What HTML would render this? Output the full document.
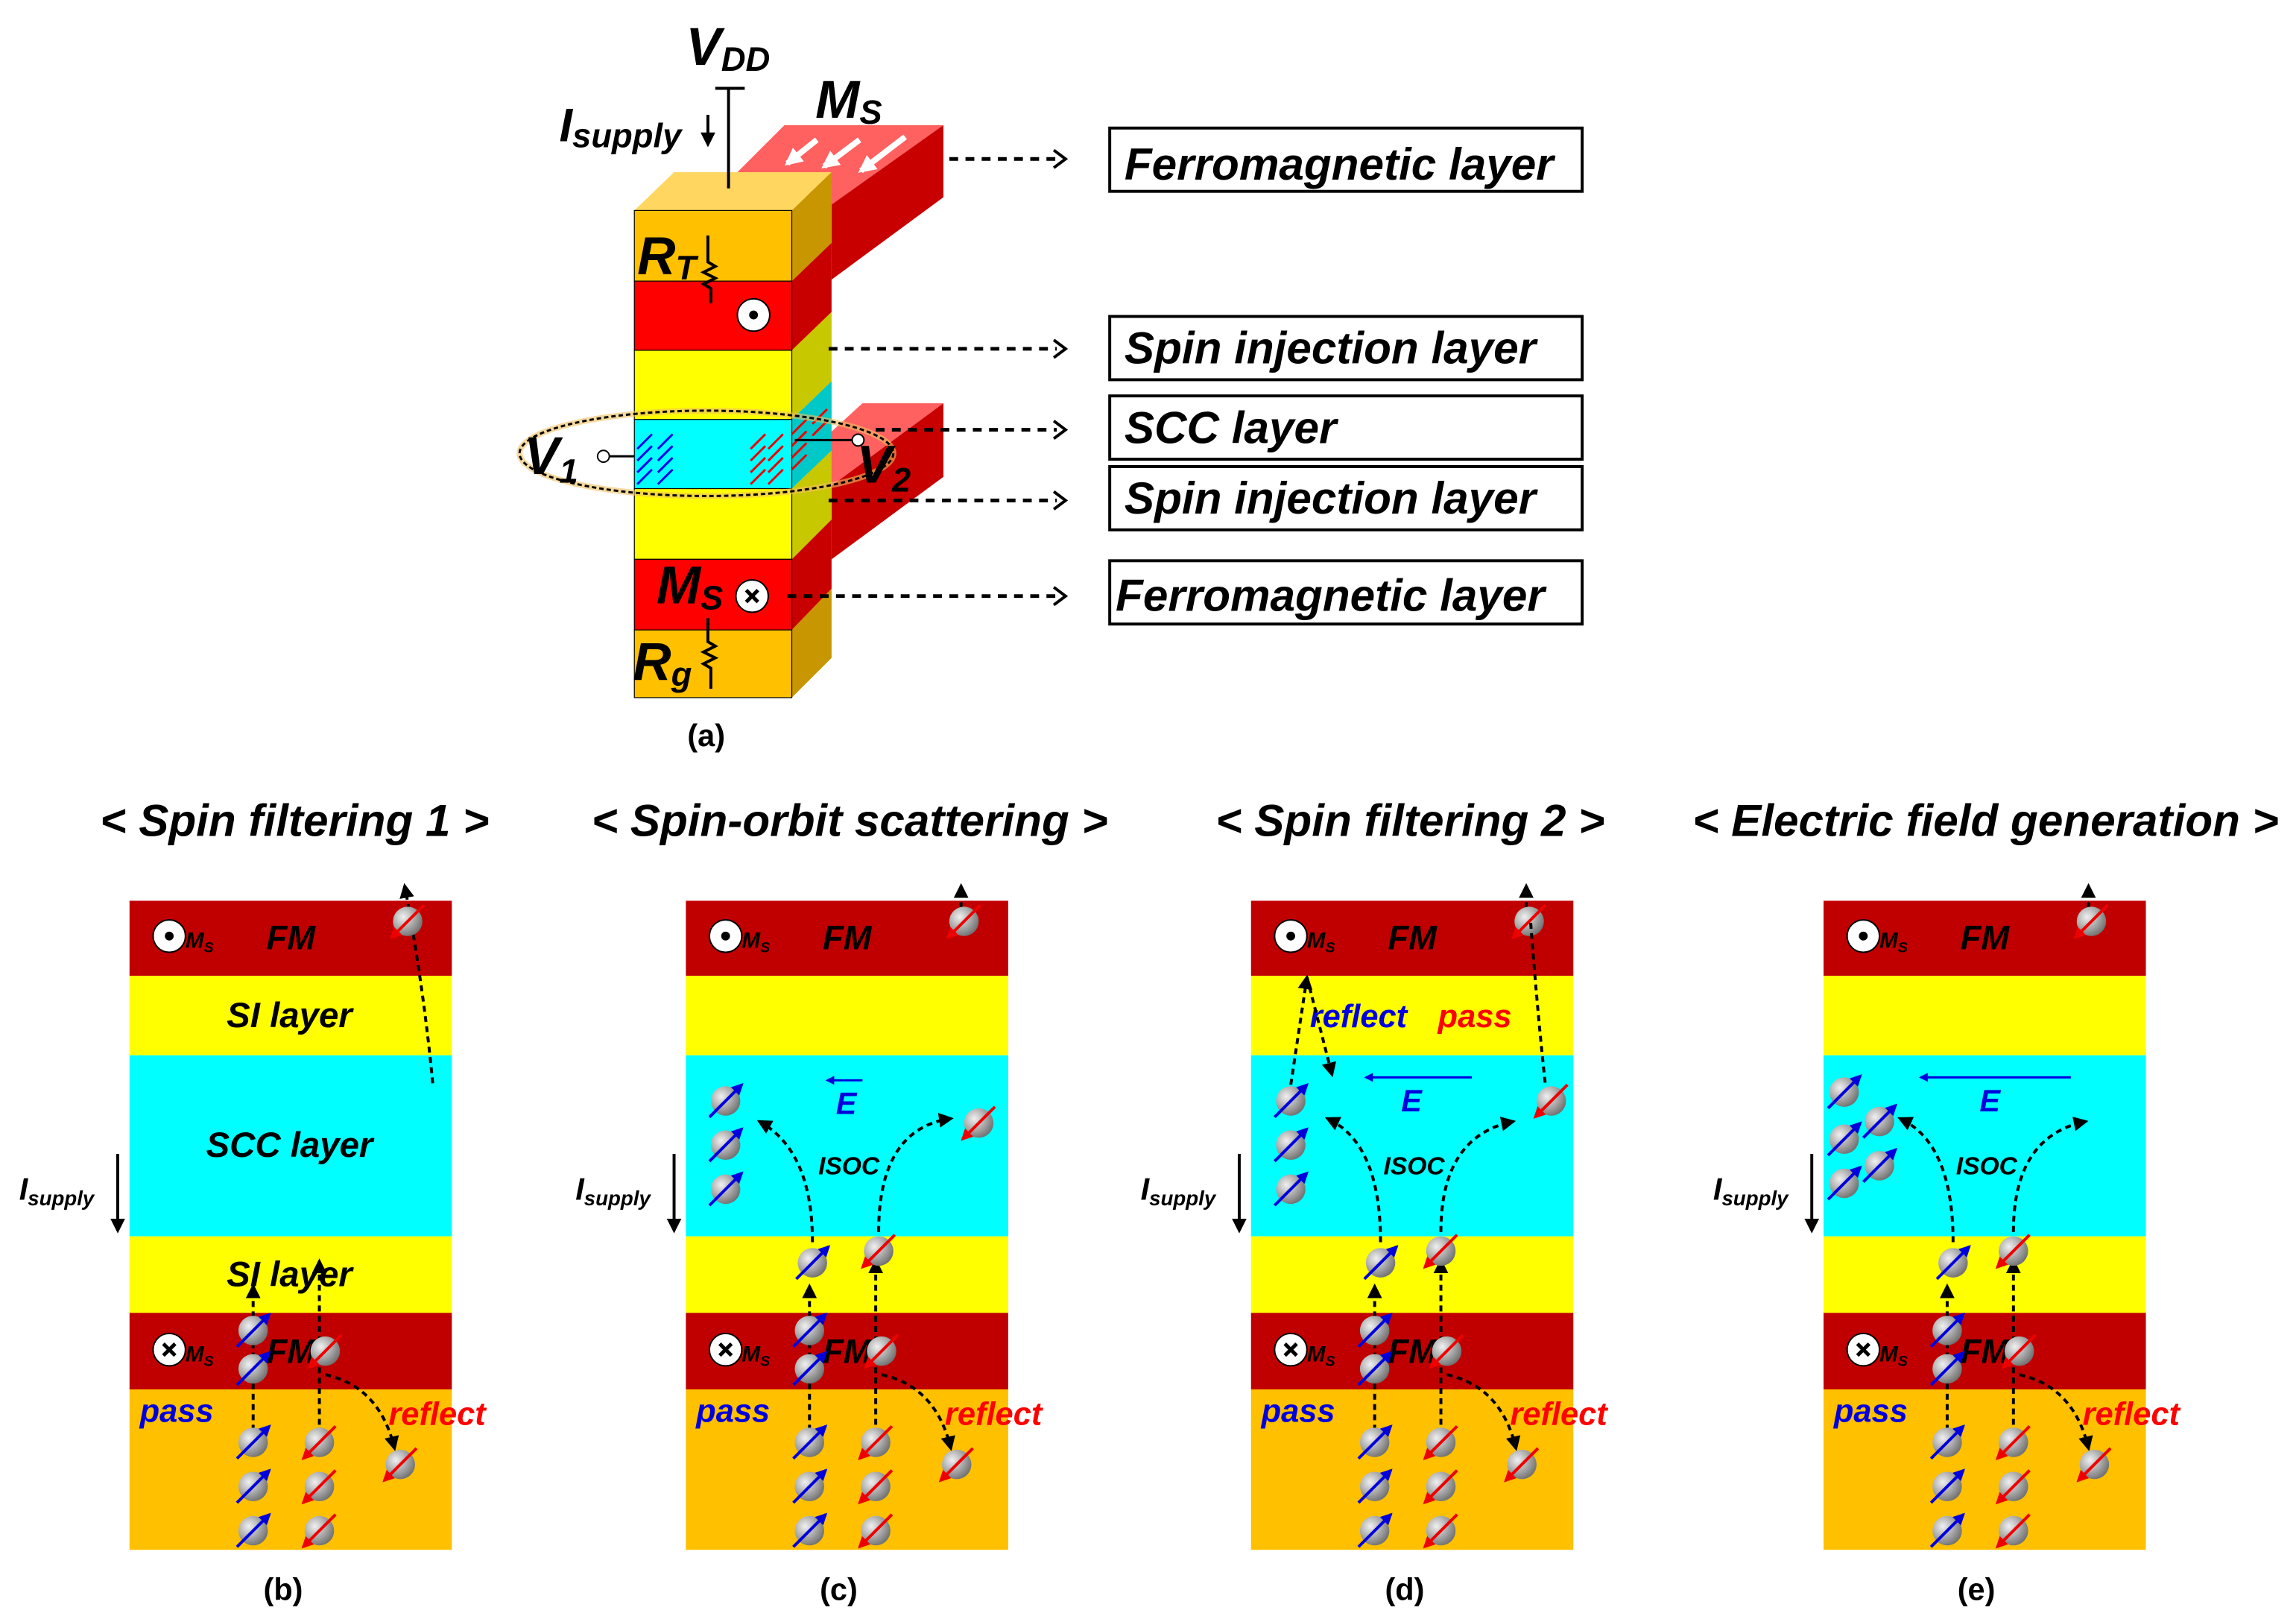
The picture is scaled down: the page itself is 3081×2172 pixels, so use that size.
<!DOCTYPE html>
<html><head><meta charset="utf-8"><style>
html,body{margin:0;padding:0;background:#fff}
svg{display:block}
text{font-family:"Liberation Sans",Arial,sans-serif;font-weight:bold;font-style:italic}
text.n{font-style:normal}
</style></head><body>
<svg width="3081" height="2172" viewBox="0 0 1560 1100" preserveAspectRatio="none" xmlns="http://www.w3.org/2000/svg">
<defs>
<marker id="ah" viewBox="0 0 10 10" refX="8" refY="5" markerWidth="5" markerHeight="5" orient="auto"><path d="M0,0L10,5L0,10z" fill="#000"/></marker>
<marker id="bh" viewBox="0 0 10 10" refX="8" refY="5" markerWidth="4" markerHeight="4" orient="auto"><path d="M0,0L10,5L0,10z" fill="#0000dd"/></marker>
<marker id="rh" viewBox="0 0 10 10" refX="8" refY="5" markerWidth="4" markerHeight="4" orient="auto"><path d="M0,0L10,5L0,10z" fill="#ee0000"/></marker>
<marker id="wh" viewBox="0 0 10 10" refX="8" refY="5" markerWidth="3" markerHeight="3" orient="auto"><path d="M0,0L10,5L0,10z" fill="#fff"/></marker>
<radialGradient id="bg" cx="0.35" cy="0.35" r="0.7"><stop offset="0" stop-color="#f0f0f0"/><stop offset="1" stop-color="#707070"/></radialGradient>
<g id="up"><circle r="10" fill="url(#bg)"/><line x1="-11" y1="11" x2="11" y2="-11" stroke="#0000dd" stroke-width="2" marker-end="url(#bh)"/></g>
<g id="dn"><circle r="10" fill="url(#bg)"/><line x1="11" y1="-11" x2="-11" y2="11" stroke="#ee0000" stroke-width="2" marker-end="url(#rh)"/></g>
<g id="dot"><circle r="11" fill="#fff" stroke="#000" stroke-width="1"/><circle r="3" fill="#000"/></g>
<g id="crs"><circle r="11" fill="#fff" stroke="#000" stroke-width="1"/><path d="M-4,-4L4,4M4,-4L-4,4" stroke="#000" stroke-width="2.5"/></g>
<g id="panel">
<rect x="0" y="0" width="219" height="51" fill="#c00000"/>
<rect x="0" y="51" width="219" height="54" fill="#ffff00"/>
<rect x="0" y="105" width="219" height="123" fill="#00ffff"/>
<rect x="0" y="228" width="219" height="52" fill="#ffff00"/>
<rect x="0" y="280" width="219" height="52" fill="#c00000"/>
<rect x="0" y="332" width="219" height="109" fill="#ffc000"/>
<use href="#dot" x="27" y="24"/><text x="38" y="32" font-size="15">M<tspan font-size="10" dy="3">S</tspan></text>
<text x="93" y="33" font-size="23">FM</text>
<use href="#crs" x="27" y="305"/><text x="38" y="313" font-size="15">M<tspan font-size="10" dy="3">S</tspan></text>
<text x="93" y="314" font-size="23">FM</text>
<text x="7" y="354" font-size="22" fill="#0000dd">pass</text>
<text x="176" y="356" font-size="22" fill="#ff0000">reflect</text>
<g fill="none" stroke="#000" stroke-width="2" stroke-dasharray="4,3">
<path d="M84,360V262" marker-end="url(#ah)"/>
<path d="M129,370V245" marker-end="url(#ah)"/>
<path d="M133,322Q170,330 180,372" marker-end="url(#ah)"/>
</g>
<use href="#up" x="84" y="292"/><use href="#up" x="84" y="318"/>
<use href="#dn" x="133" y="306"/>
<use href="#up" x="84" y="368"/><use href="#up" x="84" y="398"/><use href="#up" x="84" y="428"/>
<use href="#dn" x="129" y="368"/><use href="#dn" x="129" y="398"/><use href="#dn" x="129" y="428"/>
<use href="#dn" x="184" y="383"/>
<text x="-75" y="203" font-size="21">I<tspan font-size="14" dy="4">supply</tspan></text>
<path d="M-8,172V224" stroke="#000" stroke-width="2" marker-end="url(#ah)"/>
</g>
</defs>

<!-- TOP DEVICE -->
<polygon points="500,118 533,85 641,85 565,139" fill="#ff6060"/>
<polygon points="565,139 641,85 641,134 565,190" fill="#c80000"/>
<g stroke="#fff" stroke-width="4"><line x1="555" y1="95" x2="535" y2="111" marker-end="url(#wh)"/><line x1="584" y1="95" x2="560" y2="113" marker-end="url(#wh)"/><line x1="615" y1="93" x2="585" y2="116" marker-end="url(#wh)"/></g>
<polygon points="540,316 586,274 641,274 565,330" fill="#ff6060"/>
<polygon points="565,330 641,274 641,324 565,380" fill="#c80000"/>
<polygon points="431,143 458,117 565,117 538,143" fill="#ffd760"/>
<polygon points="538,143 565,117 565,165 538,191" fill="#c89600"/>
<polygon points="538,191 565,165 565,212 538,238" fill="#c80000"/>
<polygon points="538,238 565,212 565,259 538,285" fill="#c8c800"/>
<polygon points="538,285 565,259 565,306 538,332" fill="#00c8c8"/>
<polygon points="538,332 565,306 565,353 538,380" fill="#c8c800"/>
<polygon points="538,380 565,353 565,400 538,428" fill="#c80000"/>
<polygon points="538,428 565,400 565,447 538,474" fill="#c89600"/>
<g stroke="#000" stroke-width="0.6">
<rect x="431" y="143" width="107" height="48" fill="#ffc000"/>
<rect x="431" y="191" width="107" height="47" fill="#ff0000"/>
<rect x="431" y="238" width="107" height="47" fill="#ffff00"/>
<rect x="431" y="285" width="107" height="47" fill="#00ffff"/>
<rect x="431" y="332" width="107" height="48" fill="#ffff00"/>
<rect x="431" y="380" width="107" height="48" fill="#ff0000"/>
<rect x="431" y="428" width="107" height="46" fill="#ffc000"/>
</g>
<g stroke="#0000ee" stroke-width="1.5"><path d="M433,305l10,-10M433,313l10,-10M433,321l10,-10M433,329l10,-10M447,305l10,-10M447,313l10,-10M447,321l10,-10M447,329l10,-10"/></g>
<g stroke="#ee0000" stroke-width="1.5"><path d="M520,295l-10,10M520,303l-10,10M520,311l-10,10M520,319l-10,10M532,295l-10,10M532,303l-10,10M532,311l-10,10M532,319l-10,10M548,285l-10,10M548,293l-10,10M548,301l-10,10M548,309l-10,10M562,278l-10,10M562,286l-10,10"/></g>
<ellipse cx="480" cy="308" rx="127" ry="29" fill="none" stroke="#f0c060" stroke-width="4" opacity="0.6"/>
<ellipse cx="480" cy="308" rx="127" ry="29" fill="none" stroke="#000" stroke-width="1.5" stroke-dasharray="3,2"/>
<line x1="412" y1="310" x2="431" y2="310" stroke="#000" stroke-width="1.5"/><circle cx="410" cy="310" r="4" fill="#fff" stroke="#000"/>
<line x1="540" y1="299" x2="580" y2="299" stroke="#000" stroke-width="1.5"/><circle cx="583" cy="299" r="4" fill="#fff" stroke="#000"/>
<text x="356" y="322" font-size="36">V<tspan font-size="23" dy="6">1</tspan></text>
<text x="582" y="328" font-size="36">V<tspan font-size="23" dy="6">2</tspan></text>
<line x1="495" y1="128" x2="495" y2="60" stroke="#000" stroke-width="2"/><line x1="486" y1="60" x2="506" y2="60" stroke="#000" stroke-width="2"/>
<text x="466" y="44" font-size="36">V<tspan font-size="23" dy="4">DD</tspan></text>
<text x="380" y="96" font-size="32">I<tspan font-size="23" dy="4">supply</tspan></text>
<path d="M481,78V98" stroke="#000" stroke-width="2" marker-end="url(#ah)"/>
<text x="554" y="80" font-size="36">M<tspan font-size="23" dy="4">S</tspan></text>
<text x="433" y="186" font-size="36">R<tspan font-size="23" dy="4">T</tspan></text>
<path d="M481,160v18l5,3l-8,4l8,4l-8,4l5,3v10" fill="none" stroke="#000" stroke-width="2"/>
<use href="#dot" x="512" y="214"/>
<text x="446" y="410" font-size="36">M<tspan font-size="23" dy="4">S</tspan></text>
<use href="#crs" x="511" y="405"/>
<path d="M481,420v16l5,3l-8,4l8,4l-8,4l5,3v14" fill="none" stroke="#000" stroke-width="2"/>
<text x="430" y="462" font-size="36">R<tspan font-size="23" dy="4">g</tspan></text>
<text x="467" y="507" font-size="21" class="n">(a)</text>
<g stroke="#000" stroke-width="2.5" stroke-dasharray="6,5" fill="none">
<path d="M645,108H718"/><path d="M563,237H718"/><path d="M595,292H718"/><path d="M563,340H718"/><path d="M535,405H718"/>
</g>
<g fill="none" stroke="#000" stroke-width="2"><path d="M716,102l8,6l-8,6"/><path d="M716,231l8,6l-8,6"/><path d="M716,286l8,6l-8,6"/><path d="M716,334l8,6l-8,6"/><path d="M716,399l8,6l-8,6"/></g>
<g fill="#fff" stroke="#000" stroke-width="2">
<rect x="754" y="87" width="321" height="43"/><rect x="754" y="215" width="321" height="43"/><rect x="754" y="269" width="321" height="43"/><rect x="754" y="317" width="321" height="43"/><rect x="754" y="381" width="321" height="43"/>
</g>
<g font-size="30.5">
<text x="764" y="122">Ferromagnetic layer</text>
<text x="764" y="247">Spin injection layer</text>
<text x="764" y="301">SCC layer</text>
<text x="764" y="349">Spin injection layer</text>
<text x="758" y="415">Ferromagnetic layer</text>
</g>

<g font-size="30.5">
<text x="68" y="568">&lt; Spin filtering 1 &gt;</text>
<text x="402" y="568">&lt; Spin-orbit scattering &gt;</text>
<text x="826" y="568">&lt; Spin filtering 2 &gt;</text>
<text x="1150" y="568">&lt; Electric field generation &gt;</text>
</g>

<g transform="translate(88,612)"><use href="#panel"/>
<text x="66" y="86" font-size="24">SI layer</text>
<text x="52" y="174" font-size="24">SCC layer</text>
<text x="66" y="262" font-size="24">SI layer</text>
<path d="M206,124Q200,60 187,-10" fill="none" stroke="#000" stroke-width="2" stroke-dasharray="4,3" marker-end="url(#ah)"/>
<use href="#dn" x="189" y="14"/>
</g>
<g transform="translate(466,612)"><use href="#panel"/>
<path d="M187,5V-10" stroke="#000" stroke-width="2" stroke-dasharray="4,3" marker-end="url(#ah)"/>
<use href="#dn" x="189" y="14"/>
<path d="M120,122H96" stroke="#0000dd" stroke-width="1.5" marker-end="url(#bh)"/><text x="102" y="145" font-size="21" fill="#0000dd">E</text>
<use href="#up" x="27" y="136"/><use href="#up" x="27" y="166"/><use href="#up" x="27" y="196"/><use href="#dn" x="199" y="151"/>
<g fill="none" stroke="#000" stroke-width="2" stroke-dasharray="4,3"><path d="M86,232Q86,170 50,150" marker-end="url(#ah)"/><path d="M131,225Q131,155 180,148" marker-end="url(#ah)"/></g>
<text x="90" y="186" font-size="17">ISOC</text>
<use href="#up" x="86" y="246"/><use href="#dn" x="131" y="238"/>
</g>
<g transform="translate(850,612)"><use href="#panel"/>
<path d="M187,5V-10" stroke="#000" stroke-width="2" stroke-dasharray="4,3" marker-end="url(#ah)"/>
<use href="#dn" x="189" y="14"/>
<path d="M190,15Q195,80 200,125" fill="none" stroke="#000" stroke-width="2" stroke-dasharray="4,3"/>
<use href="#dn" x="204" y="136"/>
<text x="40" y="86" font-size="22" fill="#0000dd">reflect</text><text x="127" y="86" font-size="22" fill="#ff0000">pass</text>
<g fill="none" stroke="#000" stroke-width="2" stroke-dasharray="4,3"><path d="M27,125L38,52" marker-end="url(#ah)"/><path d="M38,52L55,118" marker-end="url(#ah)"/></g>
<path d="M150,120H78" stroke="#0000dd" stroke-width="1.5" marker-end="url(#bh)"/><text x="102" y="143" font-size="21" fill="#0000dd">E</text>
<use href="#up" x="27" y="136"/><use href="#up" x="27" y="166"/><use href="#up" x="27" y="196"/>
<g fill="none" stroke="#000" stroke-width="2" stroke-dasharray="4,3"><path d="M88,232Q88,165 52,148" marker-end="url(#ah)"/><path d="M129,225Q129,160 178,150" marker-end="url(#ah)"/></g>
<text x="90" y="186" font-size="17">ISOC</text>
<use href="#up" x="88" y="246"/><use href="#dn" x="129" y="238"/>
</g>
<g transform="translate(1239,612)"><use href="#panel"/>
<path d="M180,5V-10" stroke="#000" stroke-width="2" stroke-dasharray="4,3" marker-end="url(#ah)"/>
<use href="#dn" x="182" y="14"/>
<path d="M168,120H66" stroke="#0000dd" stroke-width="1.5" marker-end="url(#bh)"/><text x="106" y="143" font-size="21" fill="#0000dd">E</text>
<use href="#up" x="14" y="130"/><use href="#up" x="14" y="162"/><use href="#up" x="14" y="192"/><use href="#up" x="38" y="150"/><use href="#up" x="38" y="180"/>
<g fill="none" stroke="#000" stroke-width="2" stroke-dasharray="4,3"><path d="M88,232Q88,165 52,148" marker-end="url(#ah)"/><path d="M129,225Q129,160 178,150" marker-end="url(#ah)"/></g>
<text x="90" y="186" font-size="17">ISOC</text>
<use href="#up" x="88" y="246"/><use href="#dn" x="129" y="238"/>
</g>
<g font-size="21">
<text class="n" x="179" y="1087">(b)</text><text class="n" x="557" y="1087">(c)</text><text class="n" x="941" y="1087">(d)</text><text class="n" x="1330" y="1087">(e)</text>
</g>
</svg>
</body></html>
